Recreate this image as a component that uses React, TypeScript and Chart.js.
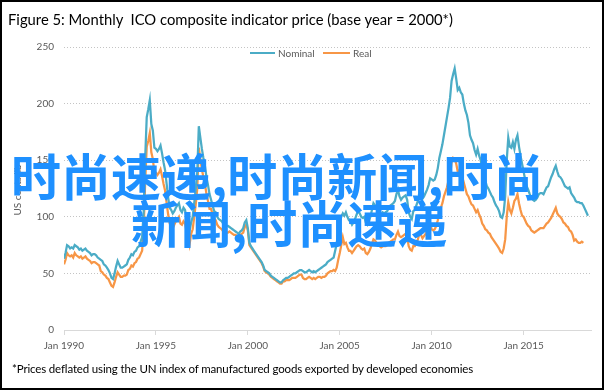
import React, { useEffect, useRef } from "react";
import { Chart, registerables } from "chart.js";

Chart.register(...registerables);

const seriesNames = ["Nominal", "Real"];
const seriesColors = ["#4BACC6", "#F79646"];
const xTickLabels = ["Jan 1990", "Jan 1995", "Jan 2000", "Jan 2005", "Jan 2010", "Jan 2015"];
const monthsPerTick = 60;
const yMin = 0;
const yMax = 250;
const yStep = 50;

// Monthly, Jan 1990 - Jul 2018 (US cents/lb)
const nominal = [
  63, 68, 75, 74, 72, 73, 72, 75, 74, 73, 71, 72,
  70, 71, 72, 70, 69, 68, 66, 67, 67, 66, 64, 63,
  62, 61, 58, 57, 55, 53, 50, 46, 45, 50, 56, 61,
  58, 55, 55, 56, 57, 58, 62, 64, 67, 66, 69, 70,
  73, 74, 78, 82, 105, 152, 188, 195, 203, 182, 176, 161,
  160, 158, 160, 163, 156, 148, 141, 129, 117, 108, 106, 103,
  105, 108, 110, 112, 106, 104, 108, 106, 98, 96, 88, 95,
  100, 112, 125, 140, 180, 170, 160, 152, 145, 135, 128, 120,
  115, 110, 105, 104, 100, 98, 97, 96, 94, 93, 92, 92,
  91, 90, 89, 88, 87, 86, 85, 87, 88, 90, 95, 97,
  90, 77, 74, 72, 70, 68, 66, 64, 62, 60, 57, 53,
  52, 51, 50, 48, 47, 46, 45, 44, 43, 42, 42, 44,
  45, 46, 46, 47, 48, 49, 50, 50, 51, 52, 53, 53,
  52, 51, 51, 52, 53, 52, 51, 52, 51, 52, 53, 54,
  55, 56, 57, 58, 60, 61, 62, 63, 64, 70, 76, 88,
  95, 100, 103, 101, 104, 100, 97, 96, 93, 95, 98, 102,
  105, 103, 100, 99, 100, 95, 93, 96, 100, 106, 112, 110,
  108, 106, 103, 102, 104, 103, 104, 105, 108, 110, 111, 112,
  114, 120, 124, 118, 115, 117, 118, 119, 115, 104, 100, 98,
  105, 106, 110, 114, 122, 120, 116, 118, 121, 124, 128, 134,
  133, 132, 133, 137, 143, 152, 158, 164, 172, 180, 188, 196,
  205, 220, 226, 231, 222, 212, 214, 210, 208, 200, 194, 190,
  183, 172, 168, 165, 159, 155, 160, 154, 150, 141, 137, 132,
  127, 125, 122, 119, 117, 113, 110, 108, 105, 100, 99, 104,
  118, 150, 170, 162, 161, 166, 160, 168, 172, 162, 154, 147,
  140, 133, 127, 124, 120, 117, 115, 114, 115, 117, 120, 121,
  121, 120, 123, 126, 127, 131, 135, 138, 142, 145, 140, 136,
  135, 133, 130, 127, 126, 125, 126, 121, 119, 117, 114, 113,
  113, 112, 112, 110, 107, 104, 101,
];

// Monthly, Jan 1990 - Apr 2018 (deflated, base year 2000)
const real = [
  58, 62, 68, 66, 65, 66, 64, 68, 66, 65, 64, 65,
  63, 64, 65, 63, 62, 61, 59, 60, 60, 59, 58, 57,
  52, 51, 49, 48, 46, 45, 42, 39, 38, 42, 47, 51,
  49, 47, 47, 48, 48, 49, 53, 54, 57, 56, 59, 60,
  63, 64, 67, 70, 90, 131, 162, 167, 174, 157, 151, 139,
  139, 137, 139, 142, 136, 129, 123, 112, 102, 94, 92, 90,
  93, 96, 98, 100, 94, 93, 96, 94, 87, 85, 76, 85,
  89, 100, 111, 125, 161, 151, 142, 135, 129, 120, 114, 107,
  107, 102, 98, 97, 93, 91, 90, 89, 87, 86, 86, 86,
  87, 86, 85, 84, 84, 83, 82, 84, 85, 86, 91, 93,
  88, 75, 73, 71, 69, 67, 65, 63, 61, 59, 56, 52,
  51, 50, 49, 47, 46, 45, 44, 43, 42, 41, 41, 43,
  43, 44, 44, 44, 45, 46, 46, 46, 47, 48, 49, 49,
  46, 45, 45, 46, 47, 46, 45, 46, 45, 46, 47, 47,
  46, 47, 47, 48, 50, 51, 52, 52, 53, 52, 55, 62,
  68, 75, 82, 76, 77, 73, 70, 70, 68, 70, 72, 74,
  75, 74, 72, 71, 72, 68, 67, 69, 72, 76, 80, 79,
  77, 76, 74, 73, 74, 74, 74, 75, 77, 78, 79, 80,
  80, 84, 87, 83, 82, 83, 84, 85, 82, 74, 71, 70,
  74, 74, 77, 80, 85, 84, 81, 83, 85, 87, 90, 94,
  89, 88, 89, 92, 97, 104, 108, 112, 118, 122, 126, 132,
  137, 148, 152, 151, 147, 140, 141, 138, 135, 130, 125, 120,
  118, 114, 111, 110, 107, 104, 106, 102, 99, 94, 92, 89,
  88, 86, 85, 82, 80, 78, 76, 74, 72, 69, 68, 72,
  80, 100, 113, 106, 103, 108, 114, 116, 120, 112, 106, 101,
  100, 97, 94, 92, 91, 88, 87, 86, 87, 88, 89, 90,
  90, 90, 92, 94, 95, 97, 99, 102, 105, 108, 103, 101,
  100, 98, 95, 94, 92, 91, 88, 87, 84, 79, 80, 78,
  77, 77, 78, 77,
];

const titleText = "Figure 5: Monthly  ICO composite indicator price (base year = 2000*)";
const footnoteText = "*Prices deflated using the UN index of manufactured goods exported by developed economies";
const yTitleText = "US cents/lb";
const watermarkLines = ["时尚速递,时尚新闻,时尚", "新闻,时尚速递"];

const FONT = "Lato, 'Open Sans', sans-serif";

export default function App() {
  const ref = useRef<HTMLCanvasElement>(null);

  useEffect(() => {
    document.body.style.margin = "0";
    const toPts = (arr: number[]) => arr.map((v, i) => ({ x: i, y: v }));
    const chart = new Chart(ref.current as HTMLCanvasElement, {
      type: "line",
      data: {
        datasets: [
          {
            label: seriesNames[0],
            data: toPts(nominal),
            borderColor: seriesColors[0],
            backgroundColor: seriesColors[0],
            borderWidth: 2.25,
            pointRadius: 0,
            tension: 0,
          },
          {
            label: seriesNames[1],
            data: toPts(real),
            borderColor: seriesColors[1],
            backgroundColor: seriesColors[1],
            borderWidth: 2.25,
            pointRadius: 0,
            tension: 0,
          },
        ],
      },
      options: {
        responsive: false,
        animation: false,
        devicePixelRatio: 1,
        layout: { padding: { top: 45, right: 11, bottom: 0, left: 0 } },
        plugins: {
          legend: { display: false },
          tooltip: { enabled: false },
          title: { display: false },
        },
        scales: {
          x: {
            type: "linear",
            min: 0,
            max: 344,
            afterFit: (s: any) => {
              s.height = 58;
            },
            ticks: {
              stepSize: monthsPerTick,
              includeBounds: false,
              autoSkip: false,
              maxRotation: 0,
              padding: 5,
              color: "#595959",
              font: { family: FONT, size: 10 },
              callback: (v: any) => xTickLabels[Math.round(Number(v) / monthsPerTick)] ?? "",
            },
            grid: { drawOnChartArea: false, drawTicks: true, tickLength: 5, color: "#D9D9D9" },
            border: { display: true, color: "#D9D9D9", width: 1 },
          },
          y: {
            min: yMin,
            max: yMax,
            afterFit: (s: any) => {
              s.width = 62;
            },
            ticks: {
              stepSize: yStep,
              padding: 10,
              color: "#595959",
              font: { family: FONT, size: 10 },
            },
            grid: { drawTicks: false, color: "#C4C4C4", lineWidth: 1 },
            border: { display: false, dash: [1, 2] },
          },
        },
      },
    } as any);
    return () => chart.destroy();
  }, []);

  return (
    <div
      style={{
        position: "relative",
        width: 604,
        height: 390,
        boxSizing: "border-box",
        border: "2px solid #000",
        background: "#fff",
        overflow: "hidden",
        fontFamily: FONT,
      }}
    >
      <canvas
        ref={ref}
        width={600}
        height={386}
        style={{ position: "absolute", left: 0, top: 0, width: 600, height: 386 }}
      />
      <div
        style={{
          position: "absolute",
          left: 6,
          top: 9,
          fontSize: 14.8,
          lineHeight: "17px",
          color: "#000",
          whiteSpace: "pre",
        }}
      >
        {titleText}
      </div>
      <div
        style={{
          position: "absolute",
          left: -35,
          top: 181,
          width: 100,
          height: 14,
          lineHeight: "14px",
          fontSize: 10,
          color: "#595959",
          textAlign: "center",
          transform: "rotate(-90deg)",
          whiteSpace: "nowrap",
        }}
      >
        {yTitleText}
      </div>
      <div style={{ position: "absolute", left: 248, top: 50, width: 25, height: 2, background: seriesColors[0] }} />
      <div
        style={{ position: "absolute", left: 276, top: 45, fontSize: 10, lineHeight: "12px", color: "#595959" }}
      >
        {seriesNames[0]}
      </div>
      <div style={{ position: "absolute", left: 321, top: 50, width: 27, height: 2, background: seriesColors[1] }} />
      <div
        style={{ position: "absolute", left: 351, top: 45, fontSize: 10, lineHeight: "12px", color: "#595959" }}
      >
        {seriesNames[1]}
      </div>
      <div
        style={{
          position: "absolute",
          left: 10,
          top: 359,
          fontSize: 11.5,
          lineHeight: "15px",
          color: "#000",
          letterSpacing: -0.15,
          whiteSpace: "nowrap",
        }}
      >
        {footnoteText}
      </div>
      {watermarkLines.map((line, i) => (
        <div
          key={i}
          style={{
            position: "absolute",
            left: i === 0 ? 9 : 129,
            top: i === 0 ? 146 : 193,
            fontFamily: "'Noto Sans CJK SC', sans-serif",
            fontWeight: 700,
            fontSize: 50,
            lineHeight: "52px",
            color: "#1E90FF",
            whiteSpace: "nowrap",
          }}
        >
          {line}
        </div>
      ))}
    </div>
  );
}
